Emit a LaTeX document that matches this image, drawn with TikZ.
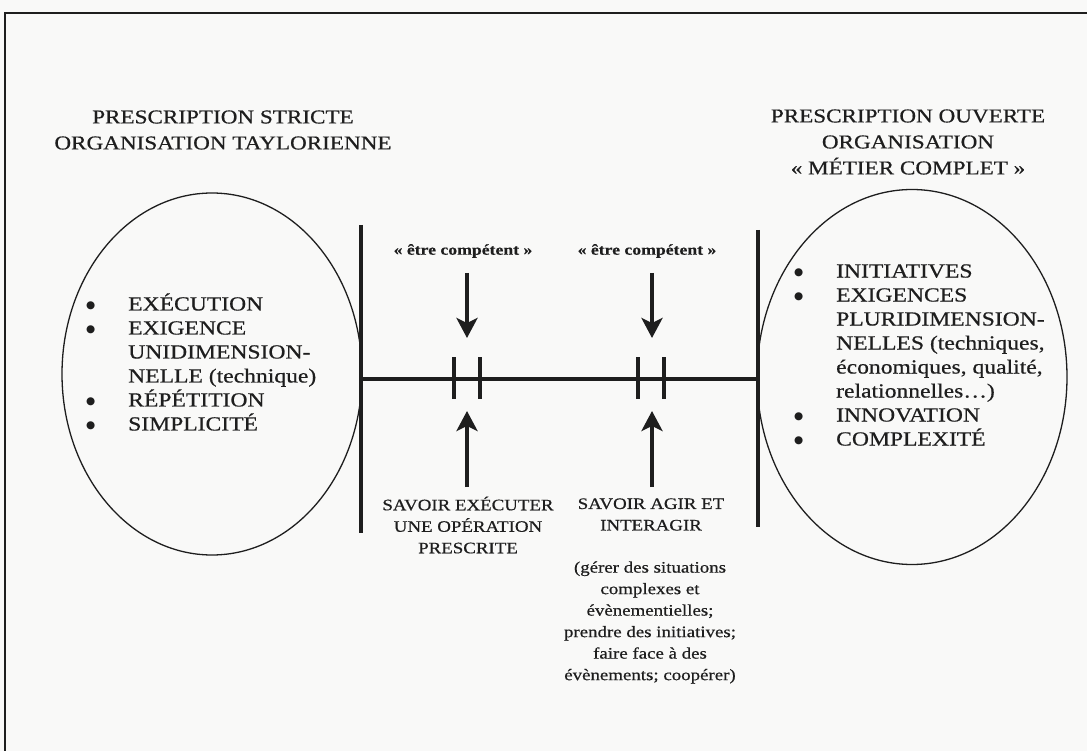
\documentclass[tikz,border=0pt]{standalone}
\usepackage{fontspec}
\setmainfont[FakeStretch=1.18,FakeBold=0.6]{Liberation Serif}
\newfontfamily\symfont{DejaVu Sans}
\usetikzlibrary{arrows.meta,shapes.geometric}
\definecolor{ink}{HTML}{1E1E1E}
\definecolor{paper}{HTML}{F9F9F8}
\newcommand{\bigbul}{\raisebox{2pt}{\symfont\fontsize{10.5}{12}\selectfont ●}}
\newcommand{\bul}[1]{\makebox[42pt][l]{\bigbul}#1}
\newcommand{\cnt}[1]{\hspace*{42pt}#1}
\begin{document}
\begin{tikzpicture}[x=1pt,y=-1pt,
  txt/.style={inner sep=0pt,text=ink},
  title/.style={txt,align=center,font=\fontsize{19.6}{26}\selectfont},
  listtxt/.style={txt,align=left,font=\fontsize{20}{24}\selectfont},
  midtxt/.style={txt,align=center,font=\fontsize{16}{21.5}\selectfont},
  etre/.style={txt,font=\fontsize{15}{18}\selectfont\bfseries},
  oval/.style={ellipse,draw=ink,line width=1.3pt,inner sep=0pt},
  barline/.style={draw=ink,line width=4pt},
  axis/.style={draw=ink,line width=3.6pt},
  tick/.style={draw=ink,line width=3.4pt},
  bigarrow/.style={draw=ink,line width=4.6pt,-{Stealth[length=20pt,width=21pt,inset=5pt]}},
  frameline/.style={draw=ink,line width=2pt}
]
\useasboundingbox (0,0) rectangle (1087,751);
\fill[paper] (0,0) rectangle (1087,751);
% frame
\coordinate (FBL) at (5,751);
\coordinate (FTL) at (5,13);
\coordinate (FTR) at (1087,13);
\draw[frameline] (FBL) -- (FTL) -- (FTR);

% ovals
\node[oval,minimum width=300pt,minimum height=362pt] (lov) at (212,374) {};
\node[oval,minimum width=310pt,minimum height=375pt] (rov) at (912,377) {};

% titles
\node[title] (tl) at (223,130) {PRESCRIPTION STRICTE\\ORGANISATION TAYLORIENNE};
\node[title] (tr) at (908,142) {PRESCRIPTION OUVERTE\\ORGANISATION\\« MÉTIER COMPLET »};

% lists
\node[listtxt,anchor=west] (ll) at (86,362) {\bul{EXÉCUTION}\\\bul{EXIGENCE}\\\cnt{UNIDIMENSION-}\\\cnt{NELLE (technique)}\\\bul{RÉPÉTITION}\\\bul{SIMPLICITÉ}};
\node[listtxt,anchor=west] (rl) at (794,355) {\bul{INITIATIVES}\\\bul{EXIGENCES}\\\cnt{PLURIDIMENSION-}\\\cnt{NELLES (techniques,}\\\cnt{économiques, qualité,}\\\cnt{relationnelles…)}\\\bul{INNOVATION}\\\bul{COMPLEXITÉ}};

% bars and axis
\coordinate (LBt) at (361,225); \coordinate (LBb) at (361,533);
\coordinate (RBt) at (758,230); \coordinate (RBb) at (758,527);
\coordinate (Lm) at (361,379); \coordinate (Rm) at (758,379);
\draw[barline] (LBt) -- (LBb);
\draw[barline] (RBt) -- (RBb);
\draw[axis] (Lm) -- (Rm);

% ticks
\foreach \n/\x in {a/454,b/480,c/638,d/664}{
  \coordinate (T\n t) at (\x,357);
  \coordinate (T\n b) at (\x,399);
  \draw[tick] (T\n t) -- (T\n b);
}

% top labels and arrows
\node[etre] (e1) at (463,251) {« être compétent »};
\node[etre] (e2) at (647,251) {« être compétent »};
\coordinate (d1s) at (467,273); \coordinate (d1e) at (467,338);
\coordinate (d2s) at (652,273); \coordinate (d2e) at (652,338);
\draw[bigarrow] (d1s) -- (d1e);
\draw[bigarrow] (d2s) -- (d2e);

% bottom arrows
\coordinate (u1s) at (467,487); \coordinate (u1e) at (467,411);
\coordinate (u2s) at (652,487); \coordinate (u2e) at (652,411);
\draw[bigarrow] (u1s) -- (u1e);
\draw[bigarrow] (u2s) -- (u2e);

% bottom labels
\node[midtxt] (s1) at (468,525) {SAVOIR EXÉCUTER\\UNE OPÉRATION\\PRESCRITE};
\node[midtxt] (s2) at (651,514.5) {SAVOIR AGIR ET\\INTERAGIR};
\node[midtxt] (s3) at (650,622.5) {(gérer des situations\\complexes et\\évènementielles;\\prendre des initiatives;\\faire face à des\\évènements; coopérer)};
\end{tikzpicture}
\end{document}
